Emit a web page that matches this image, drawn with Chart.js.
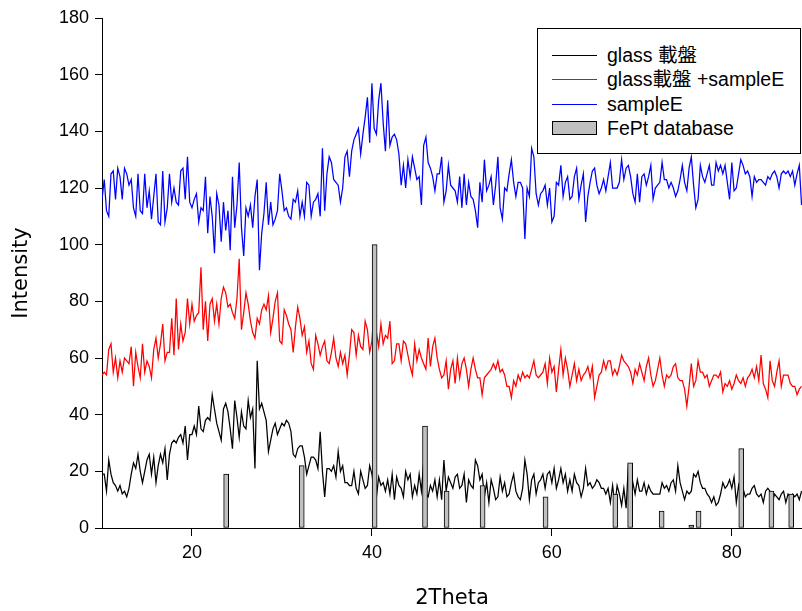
<!DOCTYPE html>
<html>
<head>
<meta charset="utf-8">
<title>XRD</title>
<script src="https://cdn.jsdelivr.net/npm/chart.js@4.4.1/dist/chart.umd.min.js"></script>
<style>
    html, body { margin: 0; padding: 0; background: #fff; }
    #wrap { position: relative; width: 802px; height: 611px; }
    #legend {
        position: absolute; left: 537px; top: 28px; width: 264px; height: 126px;
        box-sizing: border-box; border: 1px solid #000; background: #fff;
        font-family: "Liberation Sans", Arial, "Noto Sans CJK TC", sans-serif;
        font-size: 19.5px; color: #000; padding-top: 14px;
    }
    .legend__item { position: relative; height: 24.4px; line-height: 24.4px; padding-left: 69px; white-space: nowrap; }
    .legend__line { position: absolute; left: 14px; top: 12px; width: 45px; height: 0; border-top: 1px solid; }
    .legend__box { position: absolute; left: 14px; top: 5px; width: 45px; height: 14px; box-sizing: border-box; border: 1px solid #000; background: #c0c0c0; }
</style>
</head>
<body>
<div id="wrap">
    <canvas id="xrd" width="802" height="611"></canvas>
    <div id="legend"></div>
</div>
<script>
// Scan: 10 .. 87.75 deg, 0.25 deg step
const angleStart = 10;
const angleStep = 0.25;

// glass 載盤
const glassCounts = [
    19,19,13,24,19,16,15,13,15,12, 13,11,14,19,23,21,26,20,16,20, 24,26,19,25,16,22,26,23,28,17, 26,30,31,30,32,33,30,36,24,33,
    33,36,33,43,35,34,38,39,38,47, 42,37,34,31,42,44,41,35,28,45, 39,32,41,36,35,45,39,42,21,59, 42,44,41,38,27,31,35,37,33,35,
    37,36,38,37,34,26,25,28,29,29, 25,19,22,25,25,24,21,34,20,11, 21,21,20,22,18,27,20,22,16,16, 15,15,20,14,12,20,17,14,15,22,
    19,13,11,18,15,16,13,17,12,19, 10,18,15,14,11,20,17,19,11,15, 12,19,13,23,12,11,15,13,17,11, 17,10,24,13,18,16,14,18,19,14,
    15,19,9,17,15,14,24,22,17,19, 11,16,9,17,14,10,11,18,13,16, 11,12,16,19,13,11,10,14,24,19, 10,17,19,12,16,17,19,14,19,20,
    16,21,14,17,21,16,19,13,17,13, 19,16,15,11,14,21,15,16,14,15, 17,16,14,14,12,14,9,15,8,15, 12,8,14,7,22,21,16,12,17,13,
    13,16,12,15,13,12,12,12,12,16, 14,15,13,16,17,13,22,16,13,10, 13,12,13,19,18,20,16,14,14,12, 11,9,11,8,9,12,16,14,15,17,
    14,18,9,15,11,14,11,12,12,14, 15,12,11,12,9,13,14,13,9,12, 11,10,12,13,9,12,11,12,11,12, 10,13
];

// glass載盤 +sampleE
const glassSampleCounts = [
    54,55,54,63,65,55,60,53,59,55, 60,59,58,64,50,62,57,53,65,55, 59,57,53,63,67,60,65,72,59,62, 62,74,61,81,63,72,66,69,81,72,
    79,73,75,76,92,70,80,66,79,81, 73,79,72,81,85,83,78,79,76,74, 81,95,70,76,83,79,73,69,67,74, 72,77,79,77,82,69,74,80,83,66,
    65,77,75,72,70,62,71,78,74,68, 71,62,66,58,56,68,65,61,64,66, 59,58,62,67,60,57,62,58,61,54, 61,70,69,61,68,64,63,73,70,62,
    66,78,69,64,72,65,68,67,73,58, 59,65,65,59,66,65,61,57,54,65, 59,63,60,58,56,67,57,64,67,60, 56,53,54,59,49,56,59,51,60,53,
    58,60,56,50,56,60,56,53,53,47, 53,54,55,56,58,56,59,55,56,54, 50,50,46,52,50,54,52,55,53,54, 53,56,59,54,53,54,55,58,51,60,
    55,57,48,56,63,54,60,56,50,54, 58,52,56,52,54,55,57,53,57,46, 50,54,55,59,56,59,59,54,56,54, 57,61,59,58,57,55,51,56,54,58,
    55,52,57,60,54,50,52,56,60,54, 50,54,53,54,57,58,53,52,52,49, 43,50,58,50,52,59,55,55,53,54, 50,52,54,54,53,55,48,51,50,52,
    49,51,54,52,51,53,50,53,54,56, 53,57,52,61,51,49,46,59,52,50, 55,59,50,54,54,54,51,50,50,47, 49,50
];

// sampleE
const sampleCounts = [
    116,123,112,110,125,126,116,127,124,116, 127,125,121,123,113,110,125,112,111,125, 113,119,109,117,125,108,107,126,108,113, 125,115,120,115,114,126,127,116,131,115,
    113,116,118,108,113,112,124,104,117,110, 97,118,114,101,115,105,112,98,124,106, 114,129,106,96,113,110,114,106,117,123, 91,104,111,122,107,115,107,109,112,125,
    119,112,113,110,109,116,115,119,110,115, 110,122,121,110,115,116,118,110,134,112, 125,131,129,123,122,121,115,120,131,133, 124,133,137,139,141,132,139,145,152,136,
    157,141,139,151,157,143,133,151,135,138, 139,137,132,121,128,120,130,124,131,127, 123,124,114,135,138,129,127,124,119,125, 125,131,115,119,128,121,120,119,115,124,
    113,125,114,122,117,116,112,106,122,115, 130,119,121,124,114,121,131,113,109,120, 119,125,130,122,117,122,122,120,102,120, 117,134,131,118,114,118,119,121,114,120,
    108,110,122,121,128,117,122,124,116,117, 124,127,116,121,125,108,117,122,126,127, 121,118,120,123,119,124,129,120,120,120, 122,130,123,127,128,124,118,115,125,115,
    124,125,121,124,128,116,120,121,122,129, 123,123,120,122,120,117,119,123,128,122, 119,127,131,121,113,116,128,124,122,125, 128,121,121,129,126,128,125,128,122,116,
    129,119,120,125,130,128,125,126,124,117, 124,122,123,123,122,121,124,123,125,126, 124,120,125,126,125,126,124,126,121,125, 128,114
];

// FePt database (stick pattern)
const feptAngles = [23.8, 32.2, 40.3, 45.9, 48.3, 52.3, 59.3, 67.05, 68.7, 72.2, 75.5, 76.3, 81.05, 84.4, 86.6];
const feptIntensity = [19, 22, 100, 36, 13, 15, 11, 12, 23, 6, 1, 6, 28, 13, 12];

const xTicks = [20, 40, 60, 80];
const xMin = 10;
const xMax = 87.8;
const yMin = 0;
const yMax = 180;
const yStep = 20;

const FONT = '"Liberation Sans", Arial, sans-serif';
const TITLE_FONT = '"DejaVu Sans", Verdana, sans-serif';

function toPoints(values) {
    return values.map((v, i) => ({ x: angleStart + i * angleStep, y: v }));
}

function lineDataset(label, values, color) {
    return {
        type: 'line',
        label: label,
        data: toPoints(values),
        borderColor: color,
        backgroundColor: color,
        borderWidth: 1.25,
        pointRadius: 0,
        tension: 0,
        fill: false,
        order: 1
    };
}

const datasets = [
    lineDataset('glass 載盤', glassCounts, '#000000'),
    lineDataset('glass載盤 +sampleE', glassSampleCounts, '#ff0000'),
    lineDataset('sampleE', sampleCounts, '#0000ff'),
    {
        type: 'bar',
        label: 'FePt database',
        data: feptAngles.map((a, i) => ({ x: a, y: feptIntensity[i] })),
        backgroundColor: '#c0c0c0',
        borderColor: '#000000',
        borderWidth: 1,
        borderSkipped: false,
        barThickness: 5,
        order: 0
    }
];

const chart = new Chart(document.getElementById('xrd'), {
    type: 'line',
    data: { datasets },
    options: {
        responsive: false,
        animation: false,
        layout: { padding: { left: 0, top: 18, right: 0, bottom: 0 } },
        plugins: {
            legend: { display: false },
            tooltip: { enabled: false }
        },
        scales: {
            x: {
                type: 'linear',
                min: xMin,
                max: xMax,
                offset: false,
                afterBuildTicks: (scale) => { scale.ticks = xTicks.map(v => ({ value: v })); },
                afterFit: (scale) => { scale.height = 83; scale.paddingLeft = 0; scale.paddingRight = 0; },
                ticks: { color: '#000', font: { family: FONT, size: 18 }, padding: 6, maxRotation: 0, autoSkip: false },
                grid: { drawOnChartArea: false, offset: false, tickLength: 8, tickColor: '#000', lineWidth: 1 },
                border: { display: true, color: '#000', width: 1 },
                title: { display: true, text: '2Theta', color: '#000', font: { family: TITLE_FONT, size: 21 }, padding: { top: 0, bottom: 0 } }
            },
            y: {
                type: 'linear',
                min: yMin,
                max: yMax,
                afterFit: (scale) => { scale.width = 102; scale.paddingTop = 0; scale.paddingBottom = 0; },
                ticks: { stepSize: yStep, color: '#000', font: { family: FONT, size: 18 }, padding: 6 },
                grid: { drawOnChartArea: false, tickLength: 7, tickColor: '#000', lineWidth: 1 },
                border: { display: true, color: '#000', width: 1 },
                title: { display: true, text: 'Intensity', color: '#000', font: { family: TITLE_FONT, size: 21 }, padding: { top: 9, bottom: 0 } }
            }
        }
    }
});

// Legend in a box, built from the datasets
function renderLegend() {
    const el = document.getElementById('legend');
    el.innerHTML = chart.data.datasets.map(ds => {
        const mark = ds.type === 'bar'
            ? '<span class="legend__box"></span>'
            : `<span class="legend__line" style="border-color:${ds.borderColor}"></span>`;
        return `<div class="legend__item">${mark}${ds.label}</div>`;
    }).join('');
}
renderLegend();
</script>
</body>
</html>
